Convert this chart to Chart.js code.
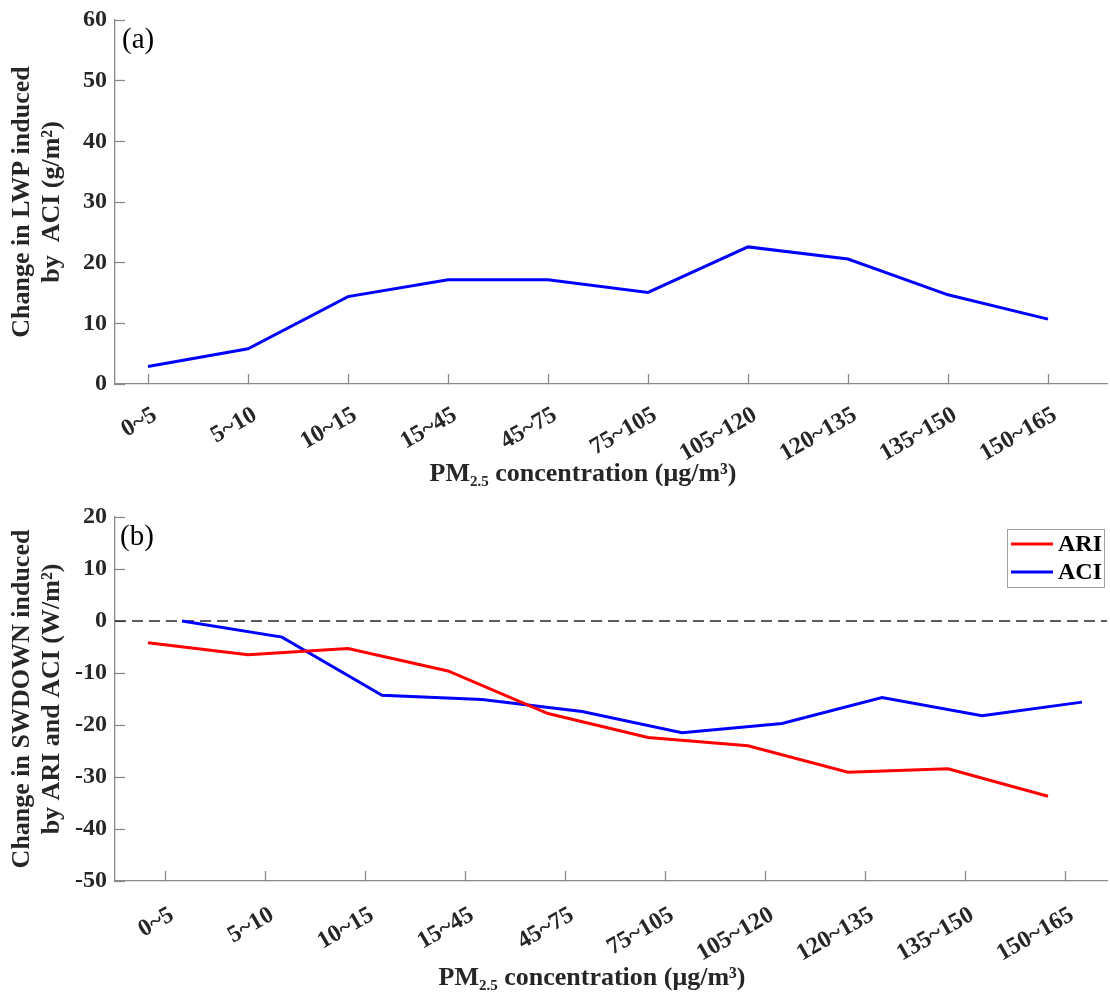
<!DOCTYPE html>
<html>
<head>
<meta charset="utf-8">
<script src="https://cdn.jsdelivr.net/npm/chart.js@4.4.0/dist/chart.umd.min.js"></script>
<style>
  body { margin: 0; background: #fff; }
  #page { position: relative; width: 1110px; height: 997px; font-family: "Liberation Serif", "Times New Roman", serif; }
  .panel { position: absolute; left: 0; width: 1110px; }
  .xtitle { position: absolute; font-weight: bold; font-size: 26px; line-height: 26px; color: #262626; white-space: nowrap; transform: translateX(-50%); }
  .xtitle sub { font-size: 15px; vertical-align: -5px; line-height: 0; }
  .tag { position: absolute; font-size: 29px; line-height: 29px; color: #000; }
</style>
</head>
<body>
<div id="page">
  <div class="panel" style="top:0;height:490px"><canvas id="chartA"></canvas></div>
  <div class="panel" style="top:490px;height:507px"><canvas id="chartB"></canvas></div>
  <div class="tag" style="left:122px;top:24px">(a)</div>
  <div class="tag" style="left:120px;top:521px">(b)</div>
  <div class="xtitle" style="left:583px;top:460px">PM<sub>2.5</sub> concentration (μg/m³)</div>
  <div class="xtitle" style="left:592px;top:964px">PM<sub>2.5</sub> concentration (μg/m³)</div>
</div>
<script>
const categories = ['0~5', '5~10', '10~15', '15~45', '45~75', '75~105', '105~120', '120~135', '135~150', '150~165'];
const lwpAci = [2.9, 5.8, 14.4, 17.2, 17.2, 15.1, 22.6, 20.6, 14.7, 10.7];
const swAri = [-4.2, -6.5, -5.3, -9.6, -17.8, -22.4, -24.0, -29.1, -28.4, -33.7];
const swAci = [0.0, -3.1, -14.3, -15.1, -17.4, -21.5, -19.7, -14.7, -18.2, -15.6];
const lwpRange = [0, 60];
const swRange = [-50, 20];

Chart.defaults.font.family = '"Liberation Serif", "Times New Roman", serif';
Chart.defaults.color = '#262626';
Chart.defaults.animation = false;

const axisGray = '#8a8a8a';
const tickFont = { size: 24, weight: 'bold' };
const titleFont = { size: 26, weight: 'bold', lineHeight: 1.15 };

function xAxis(min, max, height, pad) {
  return {
    type: 'linear', min: min, max: max,
    afterBuildTicks: s => { s.ticks = categories.map((c, i) => ({ value: i })); },
    afterFit: s => { s.height = height; s.paddingLeft = 0; s.paddingRight = 0; },
    ticks: { callback: (v, i) => categories[i], font: tickFont, minRotation: 30, maxRotation: 30, autoSkip: false, padding: pad, labelOffset: 7 },
    grid: { drawOnChartArea: false, tickLength: -10, tickColor: axisGray, tickWidth: 1.3 },
    border: { color: axisGray, width: 1.3 }
  };
}

function yAxis(range, title) {
  return {
    min: range[0], max: range[1],
    afterFit: s => { s.width = 115; s.paddingTop = 0; s.paddingBottom = 0; },
    ticks: { stepSize: 10, font: tickFont, padding: 18 },
    grid: { drawOnChartArea: false, tickLength: -10, tickColor: axisGray, tickWidth: 1.3 },
    border: { color: axisGray, width: 1.3 },
    title: { display: true, text: title, font: titleFont, padding: { top: 7, bottom: 0 } }
  };
}

const zeroLine = {
  id: 'zeroLine',
  beforeDatasetsDraw(chart) {
    const { ctx, chartArea: a, scales: { y } } = chart;
    const py = y.getPixelForValue(0);
    ctx.save();
    ctx.setLineDash([11, 6]);
    ctx.strokeStyle = '#262626';
    ctx.lineWidth = 1.5;
    ctx.beginPath();
    ctx.moveTo(a.left, py);
    ctx.lineTo(a.right, py);
    ctx.stroke();
    ctx.restore();
  }
};

const boxLegend = {
  id: 'boxLegend',
  afterDatasetsDraw(chart) {
    const { ctx, chartArea: a } = chart;
    const bx = a.right - 100, by = a.top + 12, bw = 97, bh = 58;
    ctx.save();
    ctx.fillStyle = '#fff';
    ctx.fillRect(bx, by, bw, bh);
    ctx.strokeStyle = '#a0a0a0';
    ctx.lineWidth = 1;
    ctx.strokeRect(bx + 0.5, by + 0.5, bw, bh);
    ctx.font = 'bold 24px "Liberation Serif", "Times New Roman", serif';
    ctx.textBaseline = 'middle';
    chart.data.datasets.forEach((ds, i) => {
      const ly = by + 15 + i * 28;
      ctx.strokeStyle = ds.borderColor;
      ctx.lineWidth = 3;
      ctx.beginPath();
      ctx.moveTo(bx + 4, ly);
      ctx.lineTo(bx + 46, ly);
      ctx.stroke();
      ctx.fillStyle = '#000';
      ctx.fillText(ds.label, bx + 51, ly + 1);
    });
    ctx.restore();
  }
};

new Chart(document.getElementById('chartA'), {
  type: 'line',
  data: {
    datasets: [{
      label: 'ACI',
      data: lwpAci.map((v, i) => ({ x: i, y: v })),
      borderColor: '#0000ff', borderWidth: 3, pointRadius: 0, fill: false, tension: 0
    }]
  },
  options: {
    responsive: true, maintainAspectRatio: false,
    layout: { padding: { top: 20, right: 3, left: 0, bottom: 0 } },
    plugins: { legend: { display: false }, tooltip: { enabled: false } },
    scales: {
      x: xAxis(-0.33, 9.59, 106, 27),
      y: yAxis(lwpRange, ['Change in LWP induced', 'by  ACI (g/m²)'])
    }
  }
});

const ariShift = -0.17, aciShift = 0.17;

new Chart(document.getElementById('chartB'), {
  type: 'line',
  data: {
    datasets: [{
      label: 'ARI',
      data: swAri.map((v, i) => ({ x: i + ariShift, y: v })),
      borderColor: '#ff0000', borderWidth: 3, pointRadius: 0, fill: false, tension: 0
    }, {
      label: 'ACI',
      data: swAci.map((v, i) => ({ x: i + aciShift, y: v })),
      borderColor: '#0000ff', borderWidth: 3, pointRadius: 0, fill: false, tension: 0
    }]
  },
  options: {
    responsive: true, maintainAspectRatio: false,
    layout: { padding: { top: 27, right: 3, left: 0, bottom: 0 } },
    plugins: { legend: { display: false }, tooltip: { enabled: false } },
    scales: {
      x: xAxis(-0.5, 9.42, 116, 30),
      y: yAxis(swRange, ['Change in SWDOWN induced', 'by ARI and ACI (W/m²)'])
    }
  },
  plugins: [zeroLine, boxLegend]
});
</script>
</body>
</html>
